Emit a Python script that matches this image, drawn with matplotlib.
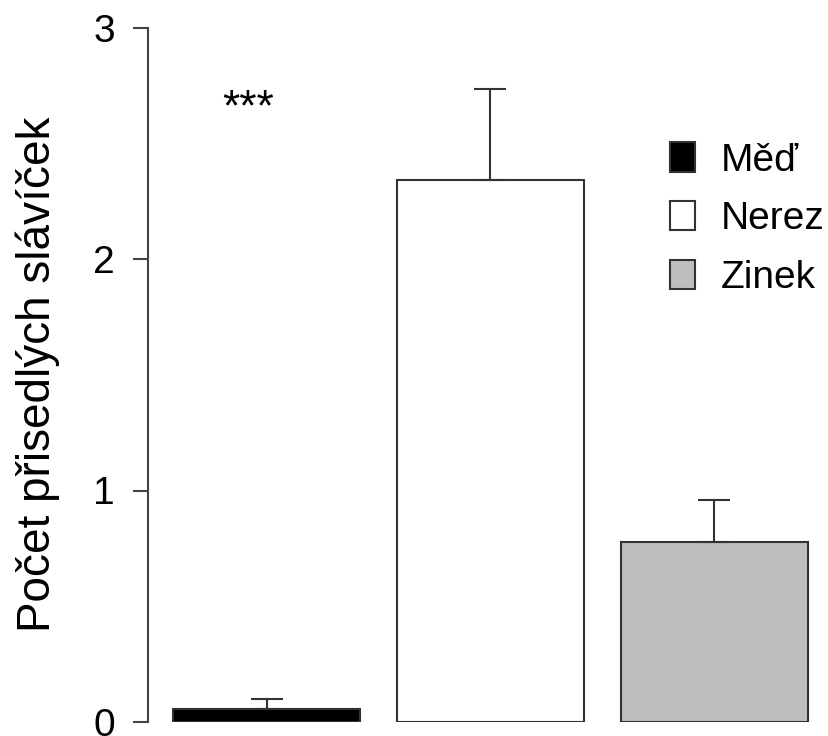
import matplotlib
matplotlib.use("Agg")
from matplotlib import pyplot as plt
from matplotlib.patches import Patch

plt.rcParams['font.family'] = ['Liberation Sans', 'DejaVu Sans']

# Data
kovy = ["Měď", "Nerez", "Zinek"]
prumer = [0.057, 2.343, 0.778]
chyba = [0.041, 0.391, 0.181]
barvy = ["black", "white", "#BEBEBE"]
pozice = [0.7, 1.9, 3.1]
hvezdicky = "***"

W, H = 829, 736
fig = plt.figure(figsize=(W / 100, H / 100), dpi=100)

# plot region in pixels (R-like layout)
x0, x1 = 148, 833
y0, y1 = 722, 27.5
ax = fig.add_axes([x0 / W, (H - y0) / H, (x1 - x0) / W, (y0 - y1) / H])

edge = "#333333"
ax.bar(pozice, prumer, width=1.0, color=barvy, edgecolor=edge, linewidth=1.5, zorder=2)
ax.errorbar(pozice, prumer, yerr=[[0] * 3, chyba], fmt="none", ecolor=edge,
            elinewidth=1.5, capsize=11.5, capthick=1.5, zorder=3)

ax.text(0.6, 2.6, hvezdicky, ha="center", va="baseline", fontsize=32)

ax.set_xlim(0.064, 3.736)
ax.set_ylim(0, 3)
ax.set_yticks([0, 1, 2, 3])
ax.set_xticks([])
for s in ["top", "right", "bottom"]:
    ax.spines[s].set_visible(False)
ax.spines["left"].set_color("#444444")
ax.spines["left"].set_linewidth(1.5)
ax.tick_params(axis="y", length=10.8, width=1.5, color="#444444", pad=13, labelsize=28)

ax.set_ylabel("Počet přisedlých slávíček", fontsize=33)
ax.yaxis.set_label_coords(-0.129, 0.5)

handles = [Patch(facecolor=c, edgecolor=edge, linewidth=1.5) for c in barvy]
ax.legend(handles, kovy, loc="upper left", bbox_to_anchor=(0.74, 0.857), frameon=False,
          fontsize=28, handlelength=0.62, handleheight=0.78, handletextpad=0.68,
          labelspacing=0.58, borderaxespad=0)

fig.savefig("out.png", dpi=100)
